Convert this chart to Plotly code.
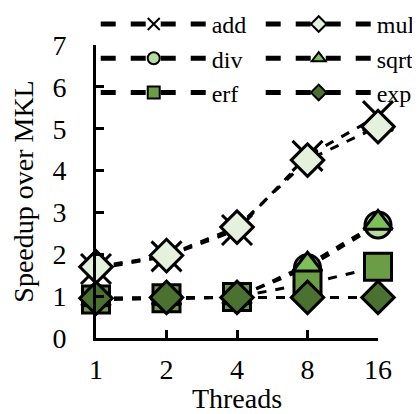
import plotly.graph_objects as go

threads = ["1", "2", "4", "8", "16"]
add_vals = [1.65, 1.95, 2.58, 4.35, 5.3]
mul_vals = [1.7, 1.97, 2.65, 4.25, 5.05]
div_vals = [0.95, 0.95, 0.98, 1.68, 2.7]
sqrt_vals = [0.92, 0.95, 0.97, 1.75, 2.75]
erf_vals = [0.92, 0.95, 0.98, 1.3, 1.7]
exp_vals = [0.95, 0.97, 0.97, 0.97, 0.97]

series = [
    # name, values, symbol, size, fill, rank
    ("add", add_vals, "x-thin", 30, "#000000", 1),
    ("mul", mul_vals, "diamond", 25, "#e5f1dc", 2),
    ("div", div_vals, "circle", 26, "#b7dc9e", 3),
    ("erf", erf_vals, "square", 27, "#6b9c46", 5),
    ("sqrt", sqrt_vals, "triangle-up", 25, "#7fbf58", 4),
    ("exp", exp_vals, "diamond", 25, "#4b7131", 6),
]

fig = go.Figure()
for name, vals, sym, size, fill, rank in series:
    marker = dict(symbol=sym, size=size, color=fill,
                  line=dict(color="black", width=3))
    fig.add_trace(go.Scatter(
        x=threads, y=vals, name=name, mode="lines+markers",
        line=dict(color="black", width=3, dash="dash"),
        marker=marker, legendrank=rank, cliponaxis=False,
    ))

font = "Liberation Serif"
# page body has an 8px default margin, so the figure is 8px smaller
fig.update_layout(
    width=412, height=406,
    margin=dict(l=88, r=42, t=37, b=76, autoexpand=False),
    paper_bgcolor="white", plot_bgcolor="white",
    font=dict(family=font, size=28, color="black"),
    showlegend=True,
    legend=dict(
        orientation="h",
        x=-0.001, y=1.147, xanchor="left", yanchor="top",
        entrywidth=44, entrywidthmode="pixels", itemwidth=106,
        itemsizing="constant", bgcolor="rgba(0,0,0,0)",
        font=dict(family=font, size=24), tracegroupgap=0,
    ),
    xaxis=dict(
        type="category", range=[0, 4], showgrid=False, zeroline=False,
        showline=True, linecolor="black", linewidth=3,
        ticks="inside", ticklen=8, tickwidth=3, tickcolor="black",
        ticklabelstandoff=4,
        title=dict(text="Threads", standoff=0, font=dict(family=font, size=28)),
    ),
    yaxis=dict(
        range=[0, 7], dtick=1, showgrid=False, zeroline=False,
        showline=True, linecolor="black", linewidth=3,
        ticks="inside", ticklen=8, tickwidth=3, tickcolor="black",
        ticklabelstandoff=21,
        title=dict(text="Speedup over MKL", standoff=12, font=dict(family=font, size=28)),
    ),
)

fig.write_html("out.html")
